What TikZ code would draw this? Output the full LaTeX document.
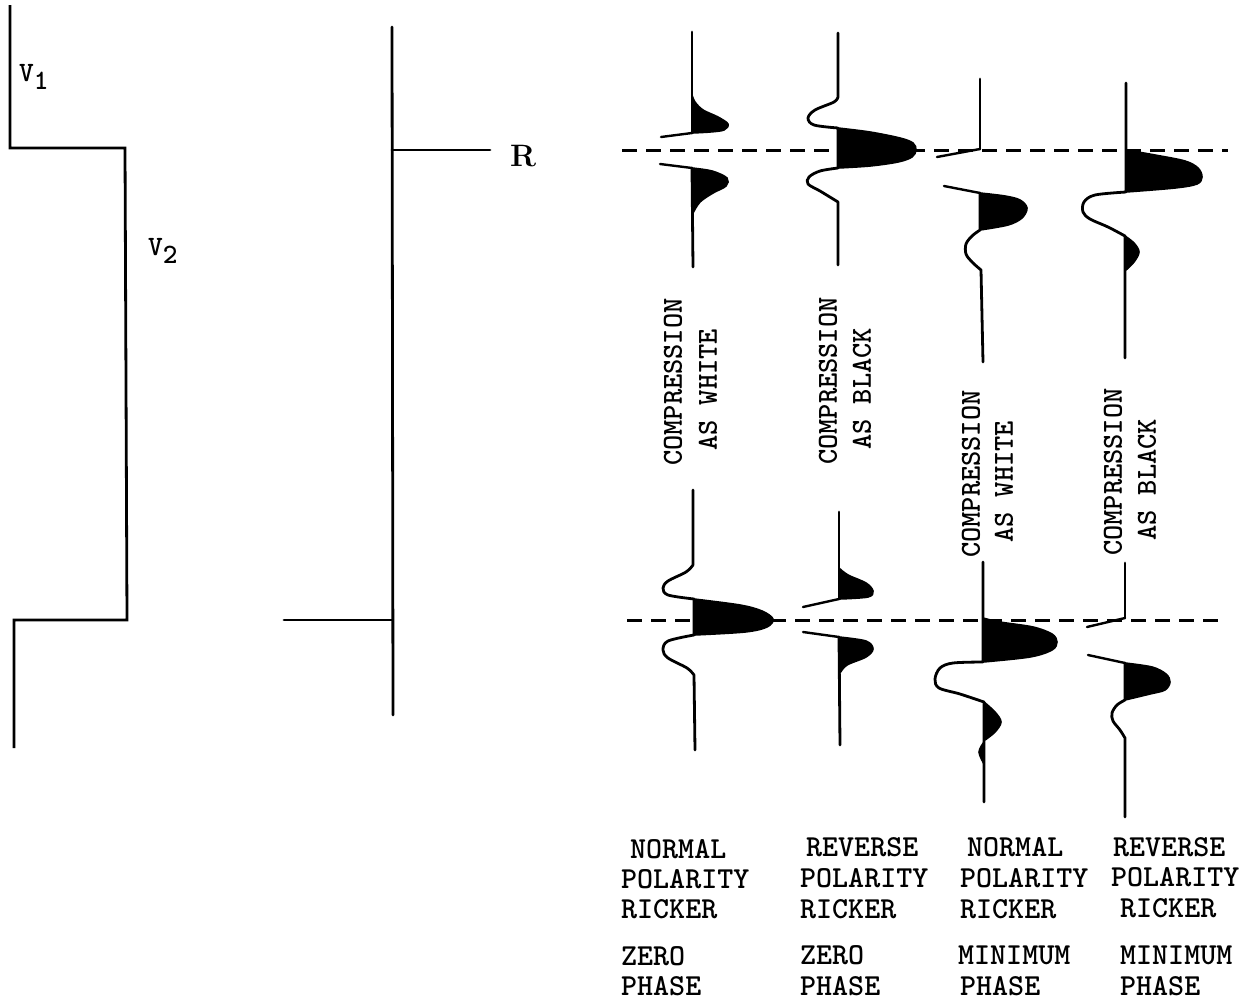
\documentclass[tikz,border=0pt]{standalone}
\usepackage{fontspec}
\newcommand\lblfont{\fontsize{30.5}{33}\selectfont\ttfamily\bfseries}
\newcommand\vlblfont{\fontsize{29}{32}\selectfont\ttfamily\bfseries}
\newcommand\velfont{\fontsize{28}{30}\selectfont\ttfamily\bfseries}
\newcommand\rfont{\rmfamily\bfseries\fontsize{31}{34}\selectfont}
\tikzset{
  trace/.style={line width=2.8pt, line join=round, line cap=round},
  lobe/.style={fill=black, draw=black, line width=1.6pt, line join=round},
  thinline/.style={line width=2.4pt, line cap=round},
  horizon/.style={line width=3pt, dash pattern=on 15pt off 9pt},
  lbl/.style={font=\lblfont, inner sep=0pt, anchor=west},
  vlbl/.style={font=\vlblfont, inner sep=0pt, anchor=west, rotate=90},
  sm/.style={smooth, tension=0.55},
}
\begin{document}
\begin{tikzpicture}[x=1pt, y=-1pt]
\useasboundingbox (0,0) rectangle (1248,1002);

% ---- velocity log ----
\draw[trace, line cap=butt, line join=miter] (10,5) -- (10,148) -- (125,148) -- (127,620) -- (14,620) -- (14,748);
\node[font=\velfont, inner sep=0pt, anchor=west] (v1) at (19,77) {V\raisebox{-8pt}{1}};
\node[font=\velfont, inner sep=0pt, anchor=west] (v2) at (148,251) {V\raisebox{-8pt}{2}};

% ---- reflectivity series ----
\draw[trace] (392,27) -- (393,715);
\draw[trace] (392,150) -- (490,150);
\draw[trace] (284,620) -- (392,620);
\node[font=\rfont, inner sep=0pt, anchor=west] (r) at (510,156) {R};

% ---- horizons ----
\draw[horizon] (622,150) -- (1228,150);
\draw[horizon] (627,620) -- (1222,620);

% ===== top row =====
% normal polarity, zero phase
\draw[trace] (692,32) -- (692,133);
\filldraw[lobe] plot[sm] coordinates {(692,95) (695,102) (703,110) (718,117) (728,124) (724,130) (710,132) (692,133)} -- cycle;
\draw[thinline] (692,133) -- (661,137);
\draw[thinline] (660,164) -- (692,168);
\filldraw[lobe] plot[sm] coordinates {(692,168) (712,171) (727,178) (726,186) (713,193) (700,202) (693,213)} -- cycle;
\draw[trace] (692,168) -- (693,267);

% reverse polarity, zero phase
\draw[trace] (838,33) -- (838,97) plot[sm] coordinates {(838,97) (834,102) (815,110) (808,118) (814,125) (838,128)} -- (838,168)
  plot[sm] coordinates {(838,168) (820,171) (809,177) (808,184) (820,191) (838,202)} -- (838,265);
\filldraw[lobe] plot[sm] coordinates {(838,128) (870,132) (900,138) (913,143) (916,150) (912,157) (898,162) (870,166) (838,168)} -- cycle;

% normal polarity, minimum phase
\draw[trace] (980,79) -- (980,149);
\draw[thinline] (980,149) -- (937,157);
\draw[thinline] (944,186) -- (980,193);
\filldraw[lobe] plot[sm] coordinates {(980,193) (1005,196) (1020,200) (1027,208) (1022,218) (1008,225) (980,230)} -- cycle;
\draw[trace] (980,193) -- (980,230) plot[sm] coordinates {(980,230) (972,236) (966,244) (966,254) (972,262) (981,270)} -- (983,362);

% reverse polarity, minimum phase
\draw[trace] (1126,83) -- (1126,192) plot[sm] coordinates {(1126,192) (1095,195) (1084,202) (1083,212) (1090,219) (1108,227) (1125,236)} -- (1125,358);
\filldraw[lobe] plot[sm] coordinates {(1126,150) (1155,155) (1185,161) (1198,168) (1202,177) (1197,184) (1175,188) (1126,192)} -- cycle;
\filldraw[lobe] plot[sm] coordinates {(1125,236) (1134,243) (1139,252) (1134,262) (1126,270)} -- cycle;

% ===== bottom row =====
% normal polarity, zero phase
\draw[trace] (693,490) -- (693,565) plot[sm] coordinates {(693,565) (686,572) (668,581) (663,588) (668,595) (694,599)} -- (694,635)
  plot[sm] coordinates {(694,635) (668,641) (663,650) (668,658) (687,668) (694,675)} -- (695,750);
\filldraw[lobe] plot[sm] coordinates {(694,599) (740,605) (762,611) (773,619) (767,627) (745,632) (694,635)} -- cycle;

% reverse polarity, zero phase
\draw[trace] (839,512) -- (839,599);
\filldraw[lobe] plot[sm] coordinates {(839,568) (848,575) (866,583) (873,591) (868,597) (839,599)} -- cycle;
\draw[thinline] (839,599) -- (803,607);
\draw[thinline] (803,632) -- (839,637);
\filldraw[lobe] plot[sm] coordinates {(839,637) (866,641) (873,649) (866,657) (847,665) (840,673)} -- cycle;
\draw[trace] (839,637) -- (840,745);

% normal polarity, minimum phase
\draw[trace] (983,562) -- (983,662) plot[sm] coordinates {(983,662) (953,663) (940,668) (935,679) (939,688) (960,694) (984,702)} -- (984,802);
\filldraw[lobe] plot[sm] coordinates {(983,618) (1000,622) (1033,627) (1052,634) (1057,642) (1052,650) (1030,657) (983,662)} -- cycle;
\filldraw[lobe] plot[sm] coordinates {(984,702) (995,712) (1001,722) (995,732) (985,740)} -- cycle;
\filldraw[lobe] plot[sm] coordinates {(984,742) (979,752) (984,764)} -- cycle;

% reverse polarity, minimum phase
\draw[trace] (1125,563) -- (1125,618);
\draw[thinline] (1125,618) -- (1087,627);
\draw[thinline] (1088,655) -- (1125,663);
\draw[trace] (1125,663) -- (1125,700) plot[sm] coordinates {(1125,700) (1117,705) (1112,713) (1113,721) (1120,730) (1125,738)} -- (1125,817);
\filldraw[lobe] plot[sm] coordinates {(1125,663) (1152,667) (1166,674) (1170,682) (1165,690) (1150,694) (1125,700)} -- cycle;

% ---- display convention labels ----
\node[vlbl] (c1a) at (673,466) {COMPRESSION};
\node[vlbl] (c1b) at (708,451) {AS WHITE};
\node[vlbl] (c2a) at (828,465) {COMPRESSION};
\node[vlbl] (c2b) at (862,450) {AS BLACK};
\node[vlbl] (c3a) at (971,558) {COMPRESSION};
\node[vlbl] (c3b) at (1004,543) {AS WHITE};
\node[vlbl] (c4a) at (1113,556) {COMPRESSION};
\node[vlbl] (c4b) at (1147,541) {AS BLACK};

% ---- wavelet captions ----
\node[lbl] (n1a) at (630,849) {NORMAL};
\node[lbl] (n1b) at (621,879) {POLARITY};
\node[lbl] (n1c) at (621,909) {RICKER};
\node[lbl] (n1d) at (621,956) {ZERO};
\node[lbl] (n1e) at (621,986) {PHASE};

\node[lbl] (n2a) at (806,847) {REVERSE};
\node[lbl] (n2b) at (800,878) {POLARITY};
\node[lbl] (n2c) at (800,909) {RICKER};
\node[lbl] (n2d) at (800,955) {ZERO};
\node[lbl] (n2e) at (800,986) {PHASE};

\node[lbl] (n3a) at (967,847) {NORMAL};
\node[lbl] (n3b) at (960,878) {POLARITY};
\node[lbl] (n3c) at (960,909) {RICKER};
\node[lbl] (n3d) at (958,955) {MINIMUM};
\node[lbl] (n3e) at (960,986) {PHASE};

\node[lbl] (n4a) at (1113,847) {REVERSE};
\node[lbl] (n4b) at (1111,877) {POLARITY};
\node[lbl] (n4c) at (1120,908) {RICKER};
\node[lbl] (n4d) at (1120,955) {MINIMUM};
\node[lbl] (n4e) at (1120,986) {PHASE};
\end{tikzpicture}
\end{document}
